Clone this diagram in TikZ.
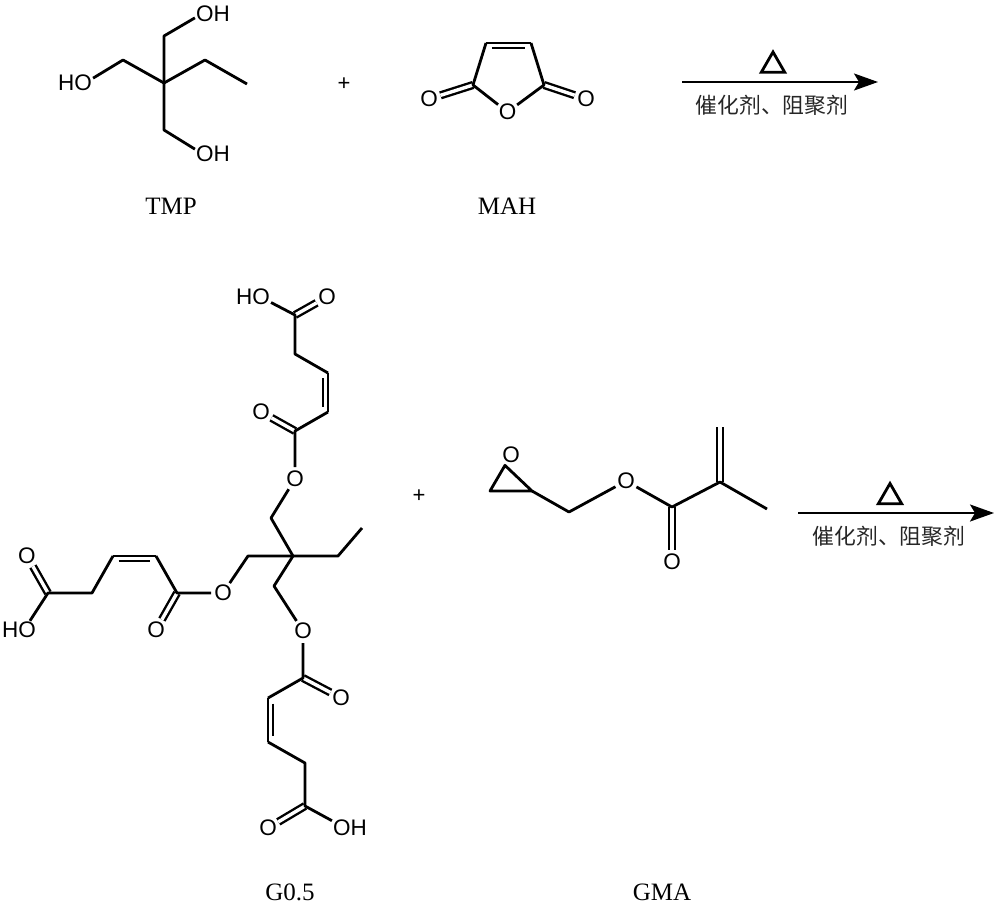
\documentclass[tikz,border=0pt]{standalone}
\usepackage{fontspec}
\setmainfont{Liberation Serif}
\newfontfamily\sansf{Liberation Sans}
\newfontfamily\cjkf{Noto Sans CJK SC}
\usetikzlibrary{calc,arrows.meta,shapes.geometric}
\tikzset{
  bond/.style={draw=black,line width=2.8pt,line cap=butt,line join=round},
  inbond/.style={draw=black,line width=2.2pt,line cap=butt},
  dblbond/.style={draw=black,line width=2.4pt,double=white,double distance=3.4pt,line cap=butt},
  wdbl/.style={dblbond,double distance=4pt},
  atom/.style={circle,inner sep=0pt,minimum size=22pt,font=\sansf\fontsize{22.5}{22.5}\selectfont},
  grp/.style={rectangle,inner sep=1pt,font=\sansf\fontsize{22.5}{22.5}\selectfont},
  lab/.style={inner sep=0pt,font=\fontsize{25}{25}\selectfont},
  plussign/.style={inner sep=0pt,font=\sansf\fontsize{22}{22}\selectfont},
  cond/.style={inner sep=0pt,font=\cjkf\fontsize{21.8}{22}\selectfont,text=black!85},
  rxn/.style={draw=black,line width=2.2pt,-{Stealth[length=24pt,width=17pt,inset=5pt]}},
  heat/.style={regular polygon,regular polygon sides=3,draw=black,line width=2.8pt,inner sep=0pt,minimum size=27pt}
}
\newcommand{\ccbond}[3]{%
  \draw[inbond] ($(#1)!0.13!(#2)!5pt!#3:(#2)$) -- ($(#2)!0.13!(#1)!5pt!-#3:(#1)$);
  \draw[bond] (#1) -- (#2);}
\begin{document}
\begin{tikzpicture}[x=1pt,y=-1pt]
\useasboundingbox (0,0) rectangle (1000,907);
\fill[white] (0,0) rectangle (1000,907);

% TMP
\coordinate (t0) at (164,83);
\coordinate (t1) at (164,36);
\coordinate (t2) at (123,60);
\coordinate (t3) at (205,60);
\coordinate (t4) at (247,84);
\coordinate (t5) at (164,130);
\node[grp] (tOHa) at (213,14) {OH};
\node[grp] (tHO) at (75,83) {HO};
\node[grp] (tOHb) at (213,154) {OH};
\draw[bond] (tOHa.192) -- (t1) -- (t0) -- (t5) -- (tOHb.165);
\draw[bond] (tHO.15) -- (t2) -- (t0) -- (t3) -- (t4);
\node[lab] (tmpl) at (171,206) {TMP};

\node[plussign] (p1) at (344,84) {+};

% MAH
\coordinate (m1) at (486,43);
\coordinate (m2) at (531,43);
\coordinate (m3) at (473,85);
\coordinate (m4) at (544,85);
\node[atom] (mO) at (507.5,112) {O};
\node[atom] (mOa) at (429,99) {O};
\node[atom] (mOb) at (586,99) {O};
\draw[dblbond] (m3) -- (mOa);
\draw[dblbond] (m4) -- (mOb);
\ccbond{m1}{m2}{-90}
\draw[bond] (m1) -- (m3) -- (mO) -- (m4) -- (m2);
\node[lab] (mahl) at (507,206) {MAH};

% Reaction 1
\coordinate (a1s) at (682,82);
\coordinate (a1e) at (878,82);
\draw[rxn] (a1s) -- (a1e);
\node[heat] (h1) at (773,65.5) {};
\node[cond] (c1) at (772,105) {催化剂、阻聚剂};

% G0.5 centre
\coordinate (g0) at (293,556);
\coordinate (ge1) at (338,556);
\coordinate (ge2) at (362,528);

% upper arm
\coordinate (u1) at (271,518);
\node[atom] (uO) at (295,479) {O};
\coordinate (u2) at (295,431);
\node[atom] (uOa) at (261,412) {O};
\coordinate (u3) at (328,412);
\coordinate (u4) at (328,373);
\coordinate (u5) at (295,354);
\coordinate (u6) at (295,315);
\node[atom] (uOb) at (327,297) {O};
\node[grp] (uHO) at (253,297) {HO};
\draw[dblbond] (u2) -- (uOa);
\draw[dblbond] (u6) -- (uOb);
\ccbond{u4}{u3}{-90}
\draw[bond] (g0) -- (u1) -- (uO) -- (u2) -- (u3);
\draw[bond] (u4) -- (u5) -- (u6) -- (uHO.-17);

% left arm
\coordinate (l1) at (248,556);
\node[atom] (lO) at (223,593) {O};
\coordinate (l2) at (177,593);
\node[atom] (lOa) at (156,630) {O};
\coordinate (l3) at (156,556);
\coordinate (l4) at (113,556);
\coordinate (l5) at (92,593);
\coordinate (l6) at (48,593);
\node[atom] (lOb) at (27,556) {O};
\node[grp] (lHO) at (19,630) {HO};
\draw[dblbond] (l2) -- (lOa);
\draw[dblbond] (l6) -- (lOb);
\ccbond{l4}{l3}{-90}
\draw[bond] (g0) -- (l1) -- (lO) -- (l2) -- (l3);
\draw[bond] (l4) -- (l5) -- (l6) -- (lHO.40);

% lower arm
\coordinate (d1) at (274,586);
\node[atom] (dO) at (303,631) {O};
\coordinate (d2) at (303,678);
\node[atom] (dOa) at (341,698) {O};
\coordinate (d3) at (268,698);
\coordinate (d4) at (268,742);
\coordinate (d5) at (305,763);
\coordinate (d6) at (305,806);
\node[atom] (dOb) at (268,828) {O};
\node[grp] (dOH) at (350,828) {OH};
\draw[dblbond] (d2) -- (dOa);
\draw[dblbond] (d6) -- (dOb);
\ccbond{d3}{d4}{90}
\draw[bond] (g0) -- (d1) -- (dO) -- (d2) -- (d3);
\draw[bond] (d4) -- (d5) -- (d6) -- (dOH.158);

\draw[bond] (g0) -- (ge1) -- (ge2);
\node[lab] (g05l) at (290,892) {G0.5};

\node[plussign] (p2) at (419,496) {+};

% GMA
\node[atom] (eO) at (511,455) {O};
\coordinate (e1) at (490,491);
\coordinate (e2) at (532,491);
\coordinate (e3) at (569,512);
\node[atom] (gO) at (626,481) {O};
\coordinate (e4) at (672,507);
\node[atom] (gOa) at (672,562) {O};
\coordinate (e5) at (720,482);
\coordinate (e6) at (720,427);
\coordinate (e7) at (767,509);
\draw[wdbl] (e4) -- (gOa);
\draw[wdbl] (e5) -- (e6);
\draw[bond] (eO) -- (e1) -- (e2) -- cycle;
\draw[bond] (e2) -- (e3) -- (gO) -- (e4) -- (e5) -- (e7);
\node[lab] (gmal) at (662,892) {GMA};

% Reaction 2
\coordinate (a2s) at (798,513);
\coordinate (a2e) at (994,513);
\draw[rxn] (a2s) -- (a2e);
\node[heat] (h2) at (890,497) {};
\node[cond] (c2) at (889,536) {催化剂、阻聚剂};
\end{tikzpicture}
\end{document}
